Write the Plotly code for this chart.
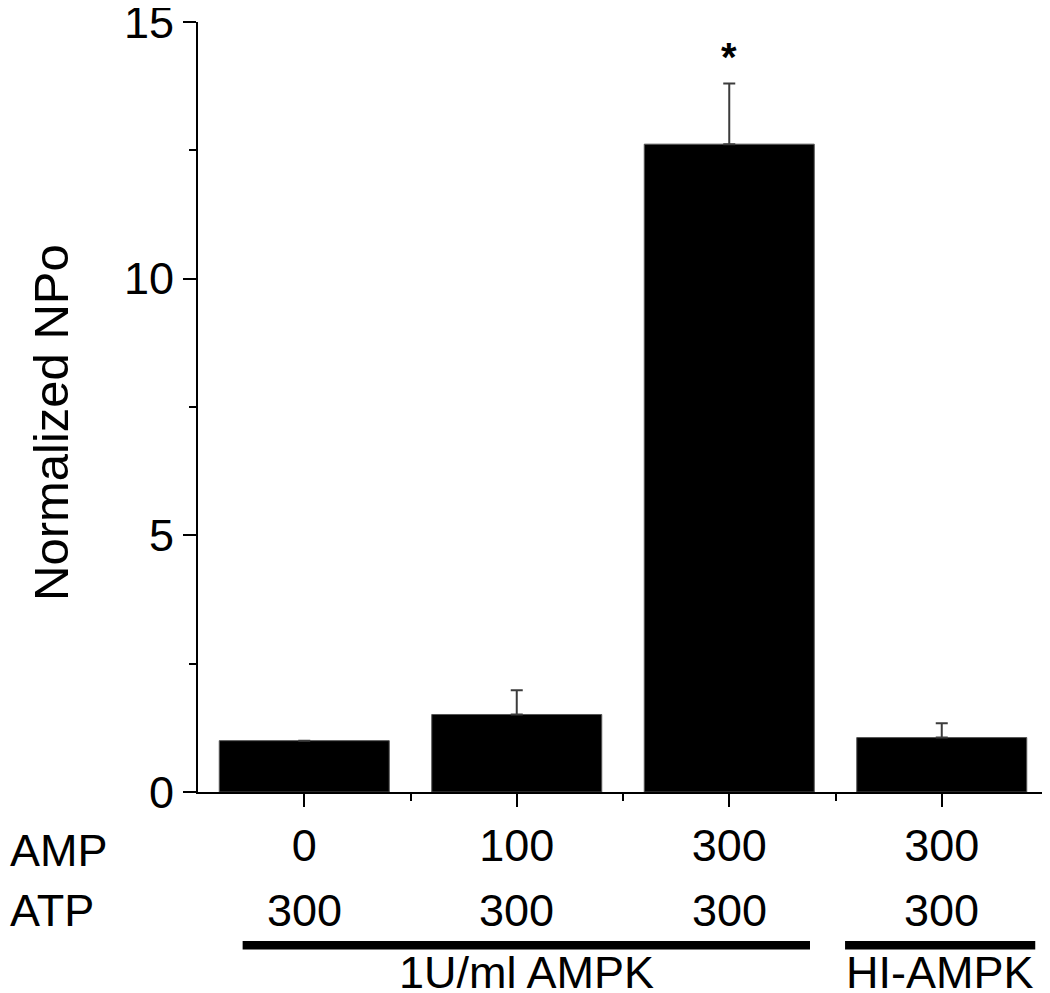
import plotly.graph_objects as go

# values
positions = [0, 1, 2, 3]
amp_labels = ["0", "100", "300", "300"]
atp_labels = ["300", "300", "300", "300"]
npo_mean = [1.0, 1.51, 12.62, 1.06]
npo_sem = [0.0, 0.47, 1.18, 0.28]
sem_minus = [0, 0, 0, 0]

groups = ["1U/ml AMPK", "HI-AMPK"]
group_start = [-0.29, 2.545]
group_end = [2.38, 3.44]

FONT = "Liberation Sans, Arial, sans-serif"

fig = go.Figure()

fig.add_trace(
    go.Bar(
        x=positions,
        y=npo_mean,
        width=0.8,
        marker=dict(color="black", line=dict(color="#555555", width=1)),
        error_y=dict(
            type="data",
            array=npo_sem,
            arrayminus=sem_minus,
            symmetric=False,
            color="#3c3c3c",
            thickness=2,
            width=6,
        ),
        showlegend=False,
    )
)

# significance marker above the 300 AMP bar
fig.add_annotation(
    x=2, y=npo_mean[2] + npo_sem[2] + 0.52, text="<b>*</b>",
    showarrow=False, font=dict(family=FONT, size=40, color="black"),
)

# y title sits a bit below the axis middle in the original
fig.add_annotation(
    xref="paper", yref="paper", x=-0.173, y=0.4805, text="Normalized NPo",
    textangle=-90, showarrow=False, xanchor="center", yanchor="middle",
    font=dict(family=FONT, size=49, color="black"),
)

# row labels on the left
for text, y in [("AMP", -0.076), ("ATP", -0.154)]:
    fig.add_annotation(
        xref="paper", yref="paper", x=-0.2235, y=y, text=text,
        xanchor="left", yanchor="middle", showarrow=False,
        font=dict(family=FONT, size=45, color="black"),
    )

# ATP row
for xi, t in zip(positions, atp_labels):
    fig.add_annotation(
        x=xi, y=-0.154, xref="x", yref="paper", text=t,
        showarrow=False, yanchor="middle",
        font=dict(family=FONT, size=45, color="black"),
    )

# group bars and labels
for name, x0, x1 in zip(groups, group_start, group_end):
    fig.add_shape(
        type="rect", xref="x", yref="paper",
        x0=x0, x1=x1, y0=-0.2045, y1=-0.1935,
        fillcolor="black", line=dict(width=0),
    )
    fig.add_annotation(
        x=(x0 + x1) / 2, y=-0.235, xref="x", yref="paper", text=name,
        showarrow=False, yanchor="middle",
        font=dict(family=FONT, size=45, color="black"),
    )

fig.update_xaxes(
    range=[-0.5, 3.5],
    automargin=False,
    tickmode="array",
    tickvals=positions,
    ticktext=amp_labels,
    ticks="outside",
    ticklen=13,
    tickwidth=2,
    tickcolor="black",
    showline=True,
    linecolor="black",
    linewidth=2,
    showgrid=False,
    zeroline=False,
    tickfont=dict(family=FONT, size=45, color="black"),
    minor=dict(tickmode="array", tickvals=[0.5, 1.5, 2.5, 3.5],
               ticks="outside", ticklen=7, tickwidth=2, tickcolor="black"),
)

fig.update_yaxes(
    range=[0, 15],
    automargin=False,
    ticklabeloverflow="allow",
    tickmode="array",
    tickvals=[0, 5, 10, 15],
    ticks="outside",
    ticklen=13,
    tickwidth=2,
    tickcolor="black",
    showline=True,
    linecolor="black",
    linewidth=2,
    showgrid=False,
    zeroline=False,
    tickfont=dict(family=FONT, size=45, color="black"),
    minor=dict(tickmode="array", tickvals=[2.5, 7.5, 12.5],
               ticks="outside", ticklen=7, tickwidth=2, tickcolor="black"),
)

# the page body adds an 8px offset, so the figure is 8px smaller each way
fig.update_layout(
    width=1042,
    height=985,
    margin=dict(l=190, r=2, t=14, b=201),
    plot_bgcolor="white",
    paper_bgcolor="white",
    bargap=0.2,
)

fig.write_html("out.html")
